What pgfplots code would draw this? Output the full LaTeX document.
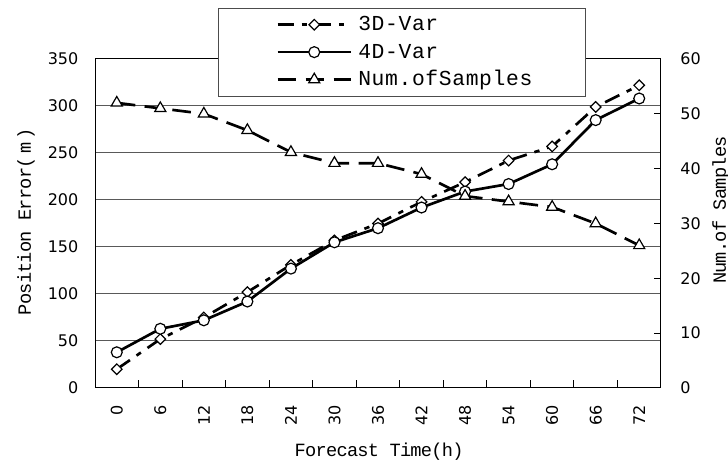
\documentclass[border=0pt]{standalone}
\usepackage{pgfplots}
\pgfplotsset{compat=1.18}
\usepackage{pgfplotstable}
\usepackage{fontspec}
\setmainfont{Liberation Mono}
\newfontfamily\tickfont{DejaVu Sans}
\newfontfamily\labfont[LetterSpace=-4]{Liberation Mono}
\newfontfamily\legfont[LetterSpace=3]{Liberation Mono}

% forecast time (h), 3D-Var error, 4D-Var error, number of samples
\pgfplotstableread{
t   thr  four  n
0   20   38    52
6   52   63    51
12  75   72    50
18  102  92    47
24  131  127   43
30  157  155   41
36  175  170   41
42  198  192   39
48  219  209   35
54  242  217   34
60  257  238   33
66  299  285   30
72  322  308   26
}\errdata

\newcommand\legtext[1]{\makebox[131pt][l]{#1}}

\begin{document}
\begin{tikzpicture}
\useasboundingbox (0,0) rectangle (546pt,347.25pt);
\pgfplotsset{
  base/.style={
    scale only axis, width=424.5pt, height=246.75pt,
    at={(71.25pt,56.25pt)}, anchor=south west,
    xmin=-3, xmax=75,
    /pgf/number format/assume math mode=true,
    ticklabel style={font=\tickfont\fontsize{12}{14}\selectfont},
    label style={font=\labfont\fontsize{14}{16}\selectfont},
    axis line style={line width=0.75pt, -},
    tick style={black, line width=0.75pt},
  },
  s3d/.style={black, line width=2pt, dash pattern=on 12pt off 6pt on 4pt off 6pt,
    mark=square*, mark size=2.8pt, mark options={solid, rotate=45, fill=white, line width=0.9pt}},
  s4d/.style={black, line width=2pt, solid,
    mark=*, mark size=4.1pt, mark options={solid, fill=white, line width=0.9pt}},
  ssam/.style={black, line width=2pt, dash pattern=on 14pt off 7pt,
    mark=triangle*, mark size=4.8pt, mark options={solid, fill=white, line width=0.9pt}},
}
\begin{axis}[base,
  ymin=0, ymax=350, ytick={0,50,...,350},
  xtick={0,6,...,72}, minor xtick={3,9,...,69},
  xtick pos=left, ytick pos=left,
  xticklabel style={rotate=90, anchor=east},
  xticklabel shift=9.5pt, yticklabel shift=9pt,
  major tick length=0pt, minor tick length=6pt, tick align=inside,
  ymajorgrids, major grid style={black!65, line width=0.75pt},
  xlabel={Forecast Time(h)}, ylabel={Position Error(\,m\,)},
  xlabel style={at={(axis description cs:0.502,-0.195)}, anchor=center},
  ylabel style={at={(axis description cs:-0.122,0.505)}, anchor=center},
  legend style={at={(axis description cs:0.2173,1.155)}, anchor=north west,
    draw=black!70, fill=white, font=\legfont\fontsize{16}{18}\selectfont,
    inner xsep=36pt, inner ysep=2pt, row sep=0pt, column sep=1.5pt,
    nodes={inner xsep=3pt, inner ysep=0pt, text height=15pt, text depth=5.6pt}},
  legend cell align=left,
  legend image code/.code={\path (0pt,0pt); \draw[line width=2pt, mark repeat=2, mark phase=2] plot coordinates {(7.5pt,0pt) (35pt,0pt) (62.5pt,0pt)};},
]
\addplot[s3d] table[x=t, y=thr] {\errdata};
\addlegendentry{\legtext{3D-Var}}
\addplot[s4d] table[x=t, y=four] {\errdata};
\addlegendentry{\legtext{4D-Var}}
\addlegendimage{ssam}
\addlegendentry{\legtext{Num.ofSamples}}
\end{axis}
\begin{axis}[base,
  axis x line=none, axis y line*=right,
  ymin=0, ymax=60, ytick={0,10,...,60}, ytick pos=right,
  tick align=inside, major tick length=5pt, yticklabel shift=11pt,
  ylabel={Num.of Samples},
  ylabel style={at={(axis description cs:1.106,0.541)}, anchor=center},
]
\addplot[ssam] table[x=t, y=n] {\errdata};
\end{axis}
\end{tikzpicture}
\end{document}
